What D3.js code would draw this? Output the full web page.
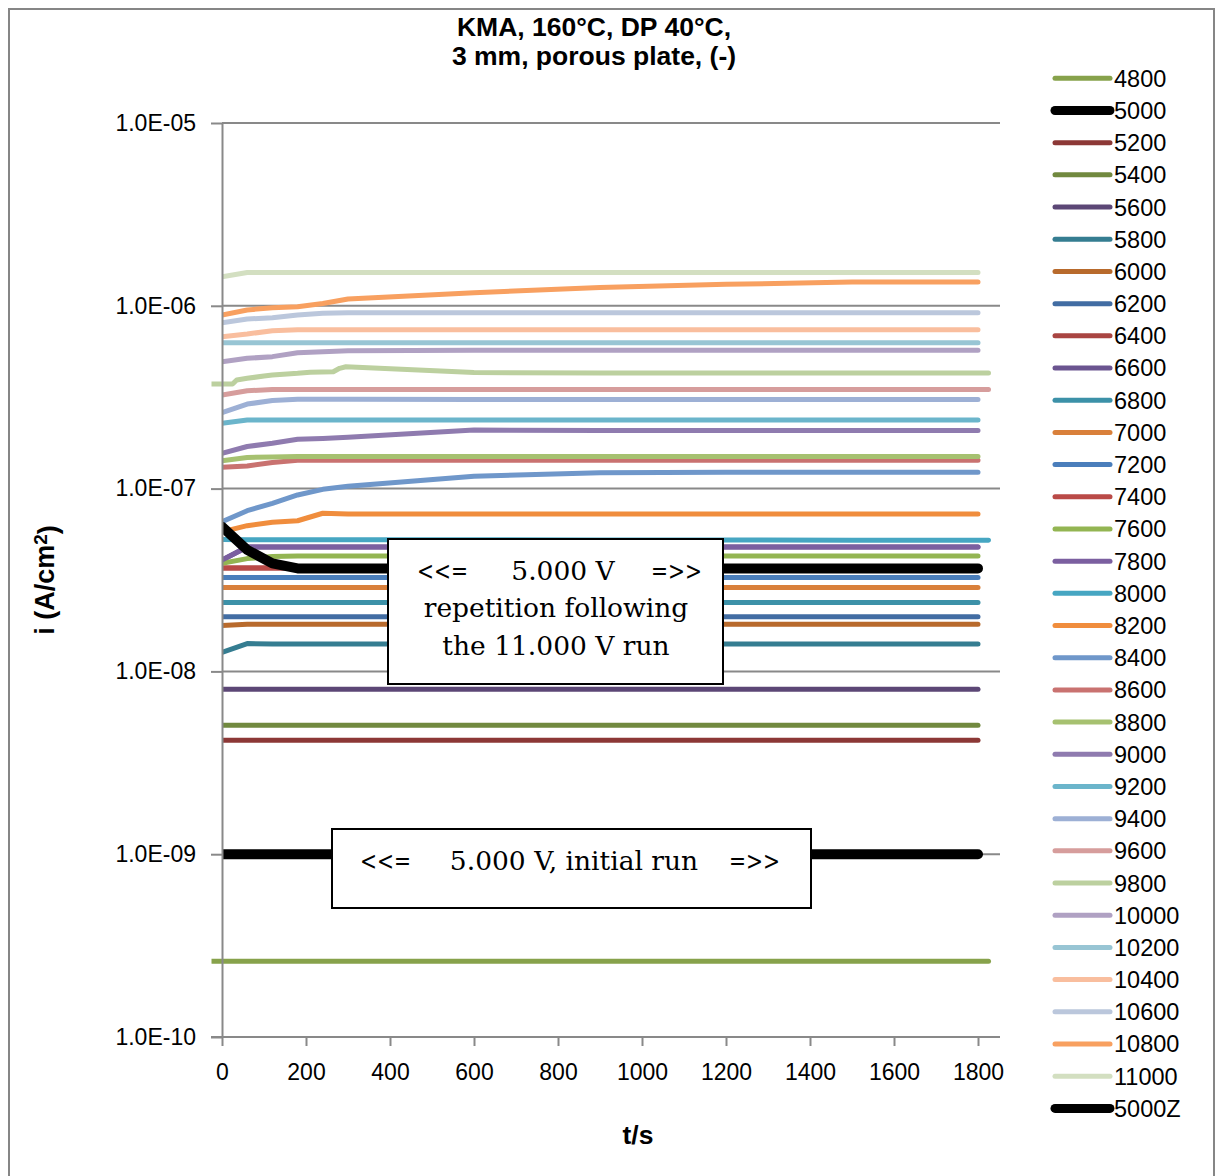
<!DOCTYPE html>
<html lang="en">

<head>
    <meta charset="UTF-8">
    <title>KMA, 160°C, DP 40°C</title>
    <script src="https://d3js.org/d3.v7.min.js"></script>
    <style>
        body { margin: 0; background: #fff; }
        svg { display: block; }
        .lbl { font-family: "Liberation Sans", Arial, sans-serif; font-size: 23px; fill: #000; }
        .bold { font-family: "Liberation Sans", Arial, sans-serif; font-weight: bold; font-size: 26.5px; fill: #000; }
        .note { font-family: "DejaVu Serif", serif; font-size: 26.5px; fill: #000; }
    </style>
</head>

<body>

    <svg id="chart" width="1224" height="1176"></svg>

    <script>
        // time bases (s)
        var tStd  = [0, 60, 120, 180, 240, 300, 600, 900, 1200, 1500, 1800];
        var tLong = [0, 60, 120, 180, 240, 300, 600, 900, 1200, 1500, 1825];
        var tWide = [-25, 60, 120, 180, 240, 300, 600, 900, 1200, 1500, 1825];
        var t9800 = [-25, 25, 35, 60, 100, 120, 155, 180, 210, 265, 280, 295, 600, 900, 1200, 1500, 1825];

        // current densities (A/cm2), one array per voltage
        var i4800  = [2.6e-10, 2.6e-10, 2.6e-10, 2.6e-10, 2.6e-10, 2.6e-10, 2.6e-10, 2.6e-10, 2.6e-10, 2.6e-10, 2.6e-10];
        var i5000  = [1.0e-9, 1.0e-9, 1.0e-9, 1.0e-9, 1.0e-9, 1.0e-9, 1.0e-9, 1.0e-9, 1.0e-9, 1.0e-9, 1.0e-9];
        var i5200  = [4.2e-9, 4.2e-9, 4.2e-9, 4.2e-9, 4.2e-9, 4.2e-9, 4.2e-9, 4.2e-9, 4.2e-9, 4.2e-9, 4.2e-9];
        var i5400  = [5.07e-9, 5.07e-9, 5.07e-9, 5.07e-9, 5.07e-9, 5.07e-9, 5.07e-9, 5.07e-9, 5.07e-9, 5.07e-9, 5.07e-9];
        var i5600  = [7.98e-9, 7.98e-9, 7.98e-9, 7.98e-9, 7.98e-9, 7.98e-9, 7.98e-9, 7.98e-9, 7.98e-9, 7.98e-9, 7.98e-9];
        var i5800  = [1.27e-8, 1.42e-8, 1.41e-8, 1.41e-8, 1.41e-8, 1.41e-8, 1.41e-8, 1.41e-8, 1.41e-8, 1.41e-8, 1.41e-8];
        var i6000  = [1.78e-8, 1.81e-8, 1.81e-8, 1.81e-8, 1.81e-8, 1.81e-8, 1.81e-8, 1.81e-8, 1.81e-8, 1.81e-8, 1.81e-8];
        var i6200  = [1.99e-8, 1.99e-8, 1.99e-8, 1.99e-8, 1.99e-8, 1.99e-8, 1.99e-8, 1.99e-8, 1.99e-8, 1.99e-8, 1.99e-8];
        var i6400  = [3.68e-8, 3.68e-8, 3.68e-8, 3.68e-8, 3.68e-8, 3.68e-8, 3.68e-8, 3.68e-8, 3.68e-8, 3.68e-8, 3.68e-8];
        var i6600  = [4.07e-8, 4.79e-8, 4.79e-8, 4.79e-8, 4.79e-8, 4.79e-8, 4.79e-8, 4.79e-8, 4.79e-8, 4.79e-8, 4.79e-8];
        var i6800  = [2.38e-8, 2.38e-8, 2.38e-8, 2.38e-8, 2.38e-8, 2.38e-8, 2.38e-8, 2.38e-8, 2.38e-8, 2.38e-8, 2.38e-8];
        var i7000  = [2.88e-8, 2.88e-8, 2.88e-8, 2.88e-8, 2.88e-8, 2.88e-8, 2.88e-8, 2.88e-8, 2.88e-8, 2.88e-8, 2.88e-8];
        var i7200  = [3.26e-8, 3.26e-8, 3.26e-8, 3.26e-8, 3.26e-8, 3.26e-8, 3.26e-8, 3.26e-8, 3.26e-8, 3.26e-8, 3.26e-8];
        var i7400  = [3.68e-8, 3.68e-8, 3.68e-8, 3.68e-8, 3.68e-8, 3.68e-8, 3.68e-8, 3.68e-8, 3.68e-8, 3.68e-8, 3.68e-8];
        var i7600  = [3.90e-8, 4.14e-8, 4.25e-8, 4.28e-8, 4.28e-8, 4.28e-8, 4.28e-8, 4.28e-8, 4.28e-8, 4.28e-8, 4.28e-8];
        var i7800  = [4.07e-8, 4.79e-8, 4.79e-8, 4.79e-8, 4.79e-8, 4.79e-8, 4.79e-8, 4.79e-8, 4.79e-8, 4.79e-8, 4.79e-8];
        var i8000  = [5.27e-8, 5.25e-8, 5.25e-8, 5.25e-8, 5.25e-8, 5.25e-8, 5.25e-8, 5.24e-8, 5.23e-8, 5.22e-8, 5.21e-8];
        var i8200  = [5.81e-8, 6.27e-8, 6.54e-8, 6.67e-8, 7.33e-8, 7.26e-8, 7.26e-8, 7.26e-8, 7.26e-8, 7.26e-8, 7.26e-8];
        var i8400  = [6.59e-8, 7.57e-8, 8.31e-8, 9.23e-8, 9.91e-8, 1.03e-7, 1.17e-7, 1.22e-7, 1.23e-7, 1.23e-7, 1.23e-7];
        var i8600  = [1.31e-7, 1.33e-7, 1.39e-7, 1.43e-7, 1.43e-7, 1.43e-7, 1.43e-7, 1.43e-7, 1.43e-7, 1.43e-7, 1.43e-7];
        var i8800  = [1.42e-7, 1.48e-7, 1.49e-7, 1.50e-7, 1.50e-7, 1.50e-7, 1.50e-7, 1.50e-7, 1.50e-7, 1.50e-7, 1.50e-7];
        var i9000  = [1.56e-7, 1.70e-7, 1.77e-7, 1.86e-7, 1.88e-7, 1.91e-7, 2.09e-7, 2.08e-7, 2.08e-7, 2.08e-7, 2.08e-7];
        var i9200  = [2.28e-7, 2.37e-7, 2.37e-7, 2.37e-7, 2.37e-7, 2.37e-7, 2.37e-7, 2.37e-7, 2.37e-7, 2.37e-7, 2.37e-7];
        var i9400  = [2.60e-7, 2.90e-7, 3.03e-7, 3.08e-7, 3.08e-7, 3.08e-7, 3.07e-7, 3.07e-7, 3.07e-7, 3.07e-7, 3.07e-7];
        var i9600  = [3.25e-7, 3.43e-7, 3.48e-7, 3.48e-7, 3.48e-7, 3.48e-7, 3.48e-7, 3.48e-7, 3.48e-7, 3.48e-7, 3.48e-7];
        var i9800  = [3.73e-7, 3.73e-7, 3.93e-7, 4.01e-7, 4.13e-7, 4.18e-7, 4.24e-7, 4.27e-7, 4.33e-7, 4.36e-7, 4.55e-7, 4.64e-7, 4.31e-7, 4.29e-7, 4.29e-7, 4.29e-7, 4.29e-7];
        var i10000 = [4.94e-7, 5.16e-7, 5.27e-7, 5.54e-7, 5.61e-7, 5.68e-7, 5.71e-7, 5.71e-7, 5.71e-7, 5.71e-7, 5.71e-7];
        var i10200 = [6.28e-7, 6.28e-7, 6.28e-7, 6.28e-7, 6.28e-7, 6.28e-7, 6.28e-7, 6.28e-7, 6.28e-7, 6.28e-7, 6.28e-7];
        var i10400 = [6.78e-7, 7.01e-7, 7.31e-7, 7.40e-7, 7.40e-7, 7.40e-7, 7.40e-7, 7.40e-7, 7.40e-7, 7.40e-7, 7.40e-7];
        var i10600 = [8.08e-7, 8.47e-7, 8.61e-7, 8.91e-7, 9.10e-7, 9.16e-7, 9.16e-7, 9.16e-7, 9.16e-7, 9.16e-7, 9.16e-7];
        var i10800 = [8.91e-7, 9.49e-7, 9.77e-7, 9.89e-7, 1.03e-6, 1.09e-6, 1.18e-6, 1.26e-6, 1.31e-6, 1.35e-6, 1.35e-6];
        var i11000 = [1.44e-6, 1.52e-6, 1.52e-6, 1.52e-6, 1.52e-6, 1.52e-6, 1.52e-6, 1.52e-6, 1.52e-6, 1.52e-6, 1.52e-6];
        var i5000Z = [6.19e-8, 4.62e-8, 3.90e-8, 3.66e-8, 3.66e-8, 3.66e-8, 3.66e-8, 3.66e-8, 3.66e-8, 3.66e-8, 3.66e-8];

        var seriesNames = ["4800", "5000", "5200", "5400", "5600", "5800", "6000", "6200", "6400", "6600",
            "6800", "7000", "7200", "7400", "7600", "7800", "8000", "8200", "8400", "8600", "8800", "9000",
            "9200", "9400", "9600", "9800", "10000", "10200", "10400", "10600", "10800", "11000", "5000Z"];
        var seriesTimes = [tWide, tStd, tStd, tStd, tStd, tStd, tStd, tStd, tStd, tStd,
            tStd, tStd, tStd, tStd, tStd, tStd, tLong, tStd, tStd, tStd, tStd, tStd,
            tStd, tStd, tLong, t9800, tStd, tStd, tStd, tStd, tStd, tStd, tStd];
        var seriesValues = [i4800, i5000, i5200, i5400, i5600, i5800, i6000, i6200, i6400, i6600,
            i6800, i7000, i7200, i7400, i7600, i7800, i8000, i8200, i8400, i8600, i8800, i9000,
            i9200, i9400, i9600, i9800, i10000, i10200, i10400, i10600, i10800, i11000, i5000Z];

        var seriesColors = ["#87a24b", "#000000", "#8c3836", "#71893f", "#5c4776", "#357d91", "#b86a2c", "#426da3",
            "#a94542", "#6b5490", "#3c91a8", "#d9803b", "#4a7ebb", "#ba4a47", "#93b552", "#7b5fa0", "#46a6c2",
            "#f08d3d", "#6f97ca", "#c97270", "#a6c170", "#8f7baf", "#6bb5cb", "#9db0d5", "#d69d9c", "#bcd09f",
            "#b0a1c3", "#98c5d4", "#f9be9e", "#bbc7dc", "#f8a060", "#d3dfc1", "#000000"];

        var xTicks = [0, 200, 400, 600, 800, 1000, 1200, 1400, 1600, 1800];
        var yTicks = [1e-10, 1e-9, 1e-8, 1e-7, 1e-6, 1e-5];

        var series = seriesNames.map(function (name, k) {
            return {
                name: name,
                color: seriesColors[k],
                heavy: name === "5000" || name === "5000Z",
                points: seriesTimes[k].map(function (t, j) { return [t, seriesValues[k][j]]; })
            };
        });

        var svg = d3.select("#chart");
        var gridColor = "#898989";

        var x = d3.scaleLinear().domain([0, 1850]).range([222, 999]);
        var y = d3.scaleLog().domain([1e-10, 1e-5]).range([1037, 123]);

        // outer chart border
        svg.append("rect")
            .attr("x", 9).attr("y", 9)
            .attr("width", 1205).attr("height", 1185)
            .attr("fill", "none")
            .attr("stroke", "#868686")
            .attr("stroke-width", 2);

        // horizontal gridlines
        svg.append("g").selectAll("line")
            .data(yTicks.slice(1))
            .enter().append("line")
            .attr("x1", x.range()[0]).attr("x2", x.range()[1] + 1)
            .attr("y1", d => y(d)).attr("y2", d => y(d))
            .attr("stroke", gridColor)
            .attr("stroke-width", 2);

        // series lines; each one is cut flat where its first point is
        var line = d3.line()
            .x(d => x(d[0]))
            .y(d => y(d[1]));

        var defs = svg.append("defs");
        series.forEach(function (s, k) {
            defs.append("clipPath").attr("id", "clip" + k)
                .append("rect")
                .attr("x", x(s.points[0][0]))
                .attr("y", 0)
                .attr("width", 1224)
                .attr("height", 1176);
        });

        svg.append("g").selectAll("path")
            .data(series)
            .enter().append("path")
            .attr("clip-path", (d, k) => "url(#clip" + k + ")")
            .attr("d", d => line(d.points))
            .attr("fill", "none")
            .attr("stroke", d => d.color)
            .attr("stroke-width", d => d.heavy ? 10 : 5)
            .attr("stroke-linecap", "round")
            .attr("stroke-linejoin", "round");

        // axes
        function expLabel(d) {
            var e = Math.round(Math.log10(d));
            return "1.0E" + (e < 0 ? "-" : "+") + String(Math.abs(e)).padStart(2, "0");
        }

        var yAxis = svg.append("g")
            .attr("transform", "translate(" + x.range()[0] + ",0)")
            .call(d3.axisLeft(y).tickValues(yTicks).tickFormat(expLabel).tickSizeInner(11).tickSizeOuter(0).tickPadding(15));

        var xAxis = svg.append("g")
            .attr("transform", "translate(0," + y.range()[0] + ")")
            .call(d3.axisBottom(x).tickValues(xTicks).tickFormat(d3.format("d")).tickSizeInner(9).tickSizeOuter(0).tickPadding(18));

        [xAxis, yAxis].forEach(function (a) {
            a.select(".domain").attr("stroke", gridColor).attr("stroke-width", 2);
            a.selectAll(".tick line").attr("stroke", gridColor).attr("stroke-width", 2);
            a.selectAll(".tick text").attr("class", "lbl").attr("font-family", null).attr("font-size", null);
        });
        xAxis.select(".domain").attr("d", "M" + (x.range()[0] - 11) + ",0H" + (x.range()[1] + 1));

        // titles
        var title = svg.append("text").attr("class", "bold").attr("text-anchor", "middle");
        title.append("tspan").attr("x", 594).attr("y", 36).text("KMA, 160°C, DP 40°C,");
        title.append("tspan").attr("x", 594).attr("y", 65).text("3 mm, porous plate, (-)");

        svg.append("text")
            .attr("class", "bold")
            .attr("text-anchor", "middle")
            .attr("x", 638).attr("y", 1144)
            .text("t/s");

        var yTitle = svg.append("text")
            .attr("class", "bold")
            .attr("text-anchor", "middle")
            .attr("transform", "translate(54,580) rotate(-90)")
            .style("font-size", "27px");
        yTitle.append("tspan").text("i (A/cm");
        yTitle.append("tspan").attr("dy", "-0.38em").style("font-size", "19px").text("2");
        yTitle.append("tspan").attr("dy", "0.38em").text(")");

        // annotation boxes
        var notes = [
            {
                box: [388, 539, 335, 145],
                lines: [
                    { y: 580, parts: [["<<=", 417, "start"], ["5.000 V", 563, "middle"], ["=>>", 702, "end"]] },
                    { y: 617, parts: [["repetition following", 556, "middle"]] },
                    { y: 655, parts: [["the 11.000 V run", 556, "middle"]] }
                ]
            },
            {
                box: [332, 829, 479, 79],
                lines: [
                    { y: 870, parts: [["<<=", 360, "start"], ["5.000 V, initial run", 574, "middle"], ["=>>", 780, "end"]] }
                ]
            }
        ];

        var note = svg.append("g").selectAll("g")
            .data(notes)
            .enter().append("g");

        note.append("rect")
            .attr("x", d => d.box[0]).attr("y", d => d.box[1])
            .attr("width", d => d.box[2]).attr("height", d => d.box[3])
            .attr("fill", "#fff")
            .attr("stroke", "#000")
            .attr("stroke-width", 2);

        note.selectAll("text")
            .data(d => d.lines.flatMap(l => l.parts.map(p => ({ text: p[0], x: p[1], anchor: p[2], y: l.y }))))
            .enter().append("text")
            .attr("class", "note")
            .attr("x", d => d.x).attr("y", d => d.y)
            .attr("text-anchor", d => d.anchor)
            .each(function (d) {
                // the arrows are narrower in the original face
                if (d.text.length === 3) {
                    d3.select(this).attr("textLength", 51).attr("lengthAdjust", "spacingAndGlyphs");
                }
            })
            .text(d => d.text);

        // legend
        var legendY = d3.scalePoint()
            .domain(seriesNames)
            .range([78.3, 78.3 + 32.19 * (seriesNames.length - 1)]);

        var legendItem = svg.append("g").selectAll("g")
            .data(series)
            .enter().append("g")
            .attr("transform", d => "translate(0," + legendY(d.name) + ")");

        legendItem.append("line")
            .attr("x1", 1055).attr("x2", 1110)
            .attr("stroke", d => d.color)
            .attr("stroke-width", d => d.heavy ? 9 : 5)
            .attr("stroke-linecap", "round");

        legendItem.append("text")
            .attr("class", "lbl")
            .attr("x", 1114)
            .attr("dy", "0.36em")
            .style("font-size", "23.5px")
            .text(d => d.name);
    </script>

</body>

</html>
